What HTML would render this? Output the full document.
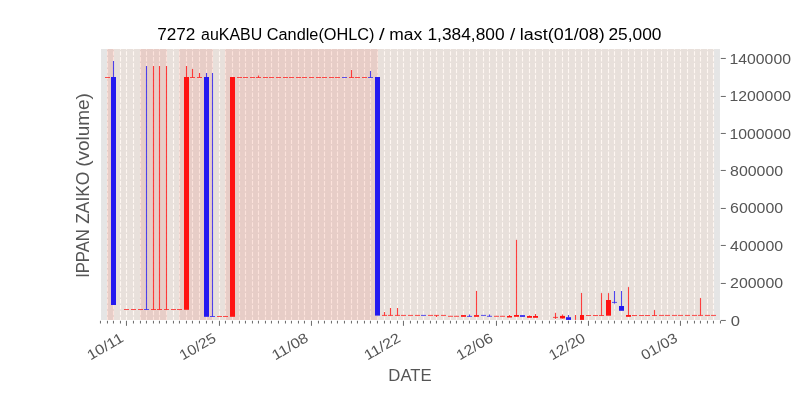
<!DOCTYPE html>
<html><head><meta charset="utf-8"><style>
html,body{margin:0;padding:0;background:#ffffff;width:800px;height:400px;overflow:hidden}
svg{display:block;will-change:transform}
text{font-family:"Liberation Sans", sans-serif}
</style></head><body>
<svg width="800" height="400" viewBox="0 0 800 400">
<rect x="0" y="0" width="800" height="400" fill="#ffffff"/>
<defs><clipPath id="ax"><rect x="101" y="49" width="619" height="271"/></clipPath></defs>
<rect x="101" y="49" width="619" height="271" fill="#e5e5e5"/>
<g clip-path="url(#ax)">
<g stroke="#ffffff" stroke-width="1.1" stroke-dasharray="4.4 1.5" stroke-dashoffset="1.1"><line x1="100.5" y1="320" x2="100.5" y2="48" /><line x1="107.5" y1="320" x2="107.5" y2="48" /><line x1="113.5" y1="320" x2="113.5" y2="48" /><line x1="120.5" y1="320" x2="120.5" y2="48" /><line x1="126.5" y1="320" x2="126.5" y2="48" /><line x1="133.5" y1="320" x2="133.5" y2="48" /><line x1="140.5" y1="320" x2="140.5" y2="48" /><line x1="146.5" y1="320" x2="146.5" y2="48" /><line x1="153.5" y1="320" x2="153.5" y2="48" /><line x1="159.5" y1="320" x2="159.5" y2="48" /><line x1="166.5" y1="320" x2="166.5" y2="48" /><line x1="173.5" y1="320" x2="173.5" y2="48" /><line x1="179.5" y1="320" x2="179.5" y2="48" /><line x1="186.5" y1="320" x2="186.5" y2="48" /><line x1="192.5" y1="320" x2="192.5" y2="48" /><line x1="199.5" y1="320" x2="199.5" y2="48" /><line x1="206.5" y1="320" x2="206.5" y2="48" /><line x1="212.5" y1="320" x2="212.5" y2="48" /><line x1="219.5" y1="320" x2="219.5" y2="48" /><line x1="225.5" y1="320" x2="225.5" y2="48" /><line x1="232.5" y1="320" x2="232.5" y2="48" /><line x1="239.5" y1="320" x2="239.5" y2="48" /><line x1="245.5" y1="320" x2="245.5" y2="48" /><line x1="252.5" y1="320" x2="252.5" y2="48" /><line x1="258.5" y1="320" x2="258.5" y2="48" /><line x1="265.5" y1="320" x2="265.5" y2="48" /><line x1="271.5" y1="320" x2="271.5" y2="48" /><line x1="278.5" y1="320" x2="278.5" y2="48" /><line x1="285.5" y1="320" x2="285.5" y2="48" /><line x1="291.5" y1="320" x2="291.5" y2="48" /><line x1="298.5" y1="320" x2="298.5" y2="48" /><line x1="304.5" y1="320" x2="304.5" y2="48" /><line x1="311.5" y1="320" x2="311.5" y2="48" /><line x1="318.5" y1="320" x2="318.5" y2="48" /><line x1="324.5" y1="320" x2="324.5" y2="48" /><line x1="331.5" y1="320" x2="331.5" y2="48" /><line x1="337.5" y1="320" x2="337.5" y2="48" /><line x1="344.5" y1="320" x2="344.5" y2="48" /><line x1="351.5" y1="320" x2="351.5" y2="48" /><line x1="357.5" y1="320" x2="357.5" y2="48" /><line x1="364.5" y1="320" x2="364.5" y2="48" /><line x1="370.5" y1="320" x2="370.5" y2="48" /><line x1="377.5" y1="320" x2="377.5" y2="48" /><line x1="384.5" y1="320" x2="384.5" y2="48" /><line x1="390.5" y1="320" x2="390.5" y2="48" /><line x1="397.5" y1="320" x2="397.5" y2="48" /><line x1="403.5" y1="320" x2="403.5" y2="48" /><line x1="410.5" y1="320" x2="410.5" y2="48" /><line x1="417.5" y1="320" x2="417.5" y2="48" /><line x1="423.5" y1="320" x2="423.5" y2="48" /><line x1="430.5" y1="320" x2="430.5" y2="48" /><line x1="436.5" y1="320" x2="436.5" y2="48" /><line x1="443.5" y1="320" x2="443.5" y2="48" /><line x1="450.5" y1="320" x2="450.5" y2="48" /><line x1="456.5" y1="320" x2="456.5" y2="48" /><line x1="463.5" y1="320" x2="463.5" y2="48" /><line x1="469.5" y1="320" x2="469.5" y2="48" /><line x1="476.5" y1="320" x2="476.5" y2="48" /><line x1="483.5" y1="320" x2="483.5" y2="48" /><line x1="489.5" y1="320" x2="489.5" y2="48" /><line x1="496.5" y1="320" x2="496.5" y2="48" /><line x1="502.5" y1="320" x2="502.5" y2="48" /><line x1="509.5" y1="320" x2="509.5" y2="48" /><line x1="516.5" y1="320" x2="516.5" y2="48" /><line x1="522.5" y1="320" x2="522.5" y2="48" /><line x1="529.5" y1="320" x2="529.5" y2="48" /><line x1="535.5" y1="320" x2="535.5" y2="48" /><line x1="542.5" y1="320" x2="542.5" y2="48" /><line x1="549.5" y1="320" x2="549.5" y2="48" /><line x1="555.5" y1="320" x2="555.5" y2="48" /><line x1="562.5" y1="320" x2="562.5" y2="48" /><line x1="568.5" y1="320" x2="568.5" y2="48" /><line x1="575.5" y1="320" x2="575.5" y2="48" /><line x1="581.5" y1="320" x2="581.5" y2="48" /><line x1="588.5" y1="320" x2="588.5" y2="48" /><line x1="595.5" y1="320" x2="595.5" y2="48" /><line x1="601.5" y1="320" x2="601.5" y2="48" /><line x1="608.5" y1="320" x2="608.5" y2="48" /><line x1="614.5" y1="320" x2="614.5" y2="48" /><line x1="621.5" y1="320" x2="621.5" y2="48" /><line x1="628.5" y1="320" x2="628.5" y2="48" /><line x1="634.5" y1="320" x2="634.5" y2="48" /><line x1="641.5" y1="320" x2="641.5" y2="48" /><line x1="647.5" y1="320" x2="647.5" y2="48" /><line x1="654.5" y1="320" x2="654.5" y2="48" /><line x1="661.5" y1="320" x2="661.5" y2="48" /><line x1="667.5" y1="320" x2="667.5" y2="48" /><line x1="674.5" y1="320" x2="674.5" y2="48" /><line x1="680.5" y1="320" x2="680.5" y2="48" /><line x1="687.5" y1="320" x2="687.5" y2="48" /><line x1="694.5" y1="320" x2="694.5" y2="48" /><line x1="700.5" y1="320" x2="700.5" y2="48" /><line x1="707.5" y1="320" x2="707.5" y2="48" /><line x1="713.5" y1="320" x2="713.5" y2="48" /><line x1="720.5" y1="320" x2="720.5" y2="48" /></g>
<rect x="107" y="48" width="607" height="272" fill="rgba(252,190,152,0.13)"/>
<rect x="107" y="48" width="7" height="272" fill="rgba(232,74,61,0.12)"/>
<rect x="140" y="48" width="27" height="272" fill="rgba(232,74,61,0.12)"/>
<rect x="179" y="48" width="34" height="272" fill="rgba(232,74,61,0.12)"/>
<rect x="225" y="48" width="153" height="272" fill="rgba(232,74,61,0.12)"/>
<rect x="105.00" y="77.00" width="5" height="1.0" fill="#ff1212" opacity="0.72"/>
<rect x="112.95" y="61.00" width="1.1" height="16.00" fill="#2419f0" opacity="0.8"/>
<rect x="111.00" y="77.00" width="5" height="228.00" fill="#2419f0"/>
<rect x="124.00" y="309.00" width="5" height="1.0" fill="#ff1212" opacity="0.72"/>
<rect x="131.00" y="309.00" width="5" height="1.0" fill="#ff1212" opacity="0.72"/>
<rect x="138.00" y="309.00" width="5" height="1.0" fill="#ff1212" opacity="0.72"/>
<rect x="145.95" y="66.00" width="1.1" height="243.50" fill="#2419f0" opacity="0.8"/>
<rect x="144.00" y="309.00" width="5" height="1.0" fill="#2419f0" opacity="0.72"/>
<rect x="152.95" y="66.00" width="1.1" height="243.50" fill="#ff1212" opacity="0.8"/>
<rect x="151.00" y="309.00" width="5" height="1.0" fill="#ff1212" opacity="0.72"/>
<rect x="158.95" y="66.00" width="1.1" height="243.50" fill="#ff1212" opacity="0.8"/>
<rect x="157.00" y="309.00" width="5" height="1.0" fill="#ff1212" opacity="0.72"/>
<rect x="165.95" y="66.00" width="1.1" height="243.50" fill="#ff1212" opacity="0.8"/>
<rect x="164.00" y="309.00" width="5" height="1.0" fill="#ff1212" opacity="0.72"/>
<rect x="171.00" y="309.00" width="5" height="1.0" fill="#ff1212" opacity="0.72"/>
<rect x="177.00" y="309.00" width="5" height="1.0" fill="#ff1212" opacity="0.72"/>
<rect x="185.95" y="66.00" width="1.1" height="11.00" fill="#ff1212" opacity="0.8"/>
<rect x="184.00" y="77.00" width="5" height="232.80" fill="#ff1212"/>
<rect x="191.95" y="69.00" width="1.1" height="8.50" fill="#ff1212" opacity="0.8"/>
<rect x="190.00" y="77.00" width="5" height="1.0" fill="#ff1212" opacity="0.72"/>
<rect x="198.95" y="73.00" width="1.1" height="4.50" fill="#ff1212" opacity="0.8"/>
<rect x="197.00" y="77.00" width="5" height="1.0" fill="#ff1212" opacity="0.72"/>
<rect x="205.95" y="73.00" width="1.1" height="4.00" fill="#2419f0" opacity="0.8"/>
<rect x="204.00" y="77.00" width="5" height="239.80" fill="#2419f0"/>
<rect x="211.95" y="73.00" width="1.1" height="243.50" fill="#2419f0" opacity="0.8"/>
<rect x="210.00" y="316.00" width="5" height="1.0" fill="#2419f0" opacity="0.72"/>
<rect x="217.00" y="316.00" width="5" height="1.0" fill="#ff1212" opacity="0.72"/>
<rect x="223.00" y="316.00" width="5" height="1.0" fill="#ff1212" opacity="0.72"/>
<rect x="230.00" y="77.00" width="5" height="239.80" fill="#ff1212"/>
<rect x="237.00" y="77.00" width="5" height="1.0" fill="#ff1212" opacity="0.72"/>
<rect x="243.00" y="77.00" width="5" height="1.0" fill="#ff1212" opacity="0.72"/>
<rect x="250.00" y="77.00" width="5" height="1.0" fill="#ff1212" opacity="0.72"/>
<rect x="257.95" y="75.50" width="1.1" height="2.00" fill="#ff1212" opacity="0.8"/>
<rect x="256.00" y="77.00" width="5" height="1.0" fill="#ff1212" opacity="0.72"/>
<rect x="263.00" y="77.00" width="5" height="1.0" fill="#ff1212" opacity="0.72"/>
<rect x="269.00" y="77.00" width="5" height="1.0" fill="#ff1212" opacity="0.72"/>
<rect x="276.00" y="77.00" width="5" height="1.0" fill="#ff1212" opacity="0.72"/>
<rect x="283.00" y="77.00" width="5" height="1.0" fill="#ff1212" opacity="0.72"/>
<rect x="289.00" y="77.00" width="5" height="1.0" fill="#ff1212" opacity="0.72"/>
<rect x="296.00" y="77.00" width="5" height="1.0" fill="#ff1212" opacity="0.72"/>
<rect x="302.00" y="77.00" width="5" height="1.0" fill="#ff1212" opacity="0.72"/>
<rect x="309.00" y="77.00" width="5" height="1.0" fill="#ff1212" opacity="0.72"/>
<rect x="316.00" y="77.00" width="5" height="1.0" fill="#ff1212" opacity="0.72"/>
<rect x="322.00" y="77.00" width="5" height="1.0" fill="#ff1212" opacity="0.72"/>
<rect x="329.00" y="77.00" width="5" height="1.0" fill="#ff1212" opacity="0.72"/>
<rect x="335.00" y="77.00" width="5" height="1.0" fill="#ff1212" opacity="0.72"/>
<rect x="342.00" y="77.00" width="5" height="1.0" fill="#2419f0" opacity="0.72"/>
<rect x="350.95" y="70.00" width="1.1" height="7.50" fill="#ff1212" opacity="0.8"/>
<rect x="349.00" y="77.00" width="5" height="1.0" fill="#ff1212" opacity="0.72"/>
<rect x="355.00" y="77.00" width="5" height="1.0" fill="#ff1212" opacity="0.72"/>
<rect x="362.00" y="77.00" width="5" height="1.0" fill="#ff1212" opacity="0.72"/>
<rect x="369.95" y="71.00" width="1.1" height="6.50" fill="#2419f0" opacity="0.8"/>
<rect x="368.00" y="77.00" width="5" height="1.0" fill="#2419f0" opacity="0.72"/>
<rect x="375.00" y="77.00" width="5" height="238.60" fill="#2419f0"/>
<rect x="383.95" y="312.00" width="1.1" height="3.40" fill="#ff1212" opacity="0.8"/>
<rect x="382.00" y="314.90" width="5" height="1.0" fill="#ff1212" opacity="0.72"/>
<rect x="389.95" y="308.00" width="1.1" height="7.40" fill="#ff1212" opacity="0.8"/>
<rect x="388.00" y="314.90" width="5" height="1.0" fill="#ff1212" opacity="0.72"/>
<rect x="396.95" y="308.00" width="1.1" height="7.40" fill="#ff1212" opacity="0.8"/>
<rect x="395.00" y="314.90" width="5" height="1.0" fill="#ff1212" opacity="0.72"/>
<rect x="401.00" y="314.90" width="5" height="1.0" fill="#ff1212" opacity="0.72"/>
<rect x="408.00" y="314.90" width="5" height="1.0" fill="#ff1212" opacity="0.72"/>
<rect x="415.00" y="314.90" width="5" height="1.0" fill="#ff1212" opacity="0.72"/>
<rect x="421.00" y="314.90" width="5" height="1.0" fill="#2419f0" opacity="0.72"/>
<rect x="428.00" y="314.90" width="5" height="1.0" fill="#ff1212" opacity="0.72"/>
<rect x="435.95" y="315.40" width="1.1" height="1.60" fill="#ff1212" opacity="0.8"/>
<rect x="434.00" y="314.90" width="5" height="1.0" fill="#ff1212" opacity="0.72"/>
<rect x="441.00" y="314.90" width="5" height="1.0" fill="#ff1212" opacity="0.72"/>
<rect x="448.00" y="315.80" width="5" height="1.0" fill="#ff1212" opacity="0.72"/>
<rect x="454.00" y="315.80" width="5" height="1.0" fill="#ff1212" opacity="0.72"/>
<rect x="461.00" y="315.10" width="5" height="1.70" fill="#ff1212"/>
<rect x="468.95" y="314.50" width="1.1" height="1.90" fill="#2419f0" opacity="0.8"/>
<rect x="467.00" y="315.90" width="5" height="1.0" fill="#2419f0" opacity="0.72"/>
<rect x="475.95" y="290.90" width="1.1" height="24.20" fill="#ff1212" opacity="0.8"/>
<rect x="474.00" y="315.10" width="5" height="1.70" fill="#ff1212"/>
<rect x="481.00" y="314.90" width="5" height="1.0" fill="#2419f0" opacity="0.72"/>
<rect x="488.95" y="314.50" width="1.1" height="1.80" fill="#2419f0" opacity="0.8"/>
<rect x="487.00" y="315.80" width="5" height="1.0" fill="#2419f0" opacity="0.72"/>
<rect x="494.00" y="315.80" width="5" height="1.0" fill="#ff1212" opacity="0.72"/>
<rect x="500.00" y="315.80" width="5" height="1.0" fill="#ff1212" opacity="0.72"/>
<rect x="508.95" y="315.00" width="1.1" height="1.00" fill="#ff1212" opacity="0.8"/>
<rect x="507.00" y="316.00" width="5" height="1.50" fill="#ff1212"/>
<rect x="515.95" y="239.90" width="1.1" height="75.10" fill="#ff1212" opacity="0.8"/>
<rect x="514.00" y="315.00" width="5" height="1.80" fill="#ff1212"/>
<rect x="520.00" y="315.20" width="5" height="1.60" fill="#2419f0"/>
<rect x="528.95" y="315.50" width="1.1" height="0.50" fill="#ff1212" opacity="0.8"/>
<rect x="527.00" y="316.00" width="5" height="1.80" fill="#ff1212"/>
<rect x="534.95" y="314.00" width="1.1" height="2.00" fill="#ff1212" opacity="0.8"/>
<rect x="533.00" y="316.00" width="5" height="1.80" fill="#ff1212"/>
<rect x="554.95" y="312.80" width="1.1" height="4.60" fill="#ff1212" opacity="0.8"/>
<rect x="554.95" y="317.40" width="1.1" height="1.50" fill="#ff1212" opacity="0.8"/>
<rect x="553.00" y="316.90" width="5" height="1.0" fill="#ff1212" opacity="0.72"/>
<rect x="561.95" y="314.50" width="1.1" height="1.40" fill="#ff1212" opacity="0.8"/>
<rect x="561.95" y="318.40" width="1.1" height="0.60" fill="#ff1212" opacity="0.8"/>
<rect x="560.00" y="315.90" width="5" height="2.50" fill="#ff1212"/>
<rect x="567.95" y="315.00" width="1.1" height="2.20" fill="#2419f0" opacity="0.8"/>
<rect x="566.00" y="317.20" width="5" height="2.70" fill="#2419f0"/>
<rect x="574.95" y="315.00" width="1.1" height="4.90" fill="#ff1212" opacity="0.8"/>
<rect x="580.95" y="293.00" width="1.1" height="22.00" fill="#ff1212" opacity="0.8"/>
<rect x="580.00" y="315.00" width="4" height="4.90" fill="#ff1212"/>
<rect x="586.00" y="315.00" width="5" height="1.0" fill="#ff1212" opacity="0.72"/>
<rect x="593.00" y="315.00" width="5" height="1.0" fill="#ff1212" opacity="0.72"/>
<rect x="600.95" y="293.10" width="1.1" height="22.40" fill="#ff1212" opacity="0.8"/>
<rect x="599.00" y="315.00" width="5" height="1.0" fill="#ff1212" opacity="0.72"/>
<rect x="607.95" y="293.10" width="1.1" height="6.90" fill="#ff1212" opacity="0.8"/>
<rect x="606.00" y="300.00" width="5" height="15.70" fill="#ff1212"/>
<rect x="613.95" y="291.00" width="1.1" height="11.40" fill="#2419f0" opacity="0.8"/>
<rect x="613.95" y="302.40" width="1.1" height="1.20" fill="#2419f0" opacity="0.8"/>
<rect x="612.00" y="301.90" width="5" height="1.0" fill="#2419f0" opacity="0.72"/>
<rect x="620.95" y="291.00" width="1.1" height="15.00" fill="#2419f0" opacity="0.8"/>
<rect x="619.00" y="306.00" width="5" height="4.80" fill="#2419f0"/>
<rect x="627.95" y="287.10" width="1.1" height="27.90" fill="#ff1212" opacity="0.8"/>
<rect x="626.00" y="315.00" width="5" height="1.80" fill="#ff1212"/>
<rect x="632.00" y="315.00" width="5" height="1.0" fill="#ff1212" opacity="0.72"/>
<rect x="639.00" y="315.00" width="5" height="1.0" fill="#ff1212" opacity="0.72"/>
<rect x="645.00" y="315.00" width="5" height="1.0" fill="#ff1212" opacity="0.72"/>
<rect x="653.95" y="310.10" width="1.1" height="5.40" fill="#ff1212" opacity="0.8"/>
<rect x="652.00" y="315.00" width="5" height="1.0" fill="#ff1212" opacity="0.72"/>
<rect x="659.00" y="314.90" width="5" height="1.0" fill="#ff1212" opacity="0.72"/>
<rect x="665.00" y="314.90" width="5" height="1.0" fill="#ff1212" opacity="0.72"/>
<rect x="672.00" y="314.90" width="5" height="1.0" fill="#ff1212" opacity="0.72"/>
<rect x="678.00" y="314.90" width="5" height="1.0" fill="#ff1212" opacity="0.72"/>
<rect x="685.00" y="314.90" width="5" height="1.0" fill="#ff1212" opacity="0.72"/>
<rect x="692.00" y="314.90" width="5" height="1.0" fill="#ff1212" opacity="0.72"/>
<rect x="699.95" y="298.10" width="1.1" height="17.30" fill="#ff1212" opacity="0.8"/>
<rect x="698.00" y="314.90" width="5" height="1.0" fill="#ff1212" opacity="0.72"/>
<rect x="705.00" y="314.90" width="5" height="1.0" fill="#ff1212" opacity="0.72"/>
<rect x="711.00" y="314.90" width="5" height="1.0" fill="#ff1212" opacity="0.72"/>
</g>
<g fill="#555555" opacity="0.88"><rect x="99.95" y="320.8" width="1.0" height="2.7"/><rect x="106.95" y="320.8" width="1.0" height="2.7"/><rect x="112.95" y="320.8" width="1.0" height="2.7"/><rect x="119.95" y="320.8" width="1.0" height="2.7"/><rect x="125.95" y="320.8" width="1.0" height="5.0"/><rect x="132.95" y="320.8" width="1.0" height="2.7"/><rect x="139.95" y="320.8" width="1.0" height="2.7"/><rect x="145.95" y="320.8" width="1.0" height="2.7"/><rect x="152.95" y="320.8" width="1.0" height="2.7"/><rect x="158.95" y="320.8" width="1.0" height="2.7"/><rect x="165.95" y="320.8" width="1.0" height="2.7"/><rect x="172.95" y="320.8" width="1.0" height="2.7"/><rect x="178.95" y="320.8" width="1.0" height="2.7"/><rect x="185.95" y="320.8" width="1.0" height="2.7"/><rect x="191.95" y="320.8" width="1.0" height="2.7"/><rect x="198.95" y="320.8" width="1.0" height="2.7"/><rect x="205.95" y="320.8" width="1.0" height="2.7"/><rect x="211.95" y="320.8" width="1.0" height="2.7"/><rect x="218.95" y="320.8" width="1.0" height="5.0"/><rect x="224.95" y="320.8" width="1.0" height="2.7"/><rect x="231.95" y="320.8" width="1.0" height="2.7"/><rect x="238.95" y="320.8" width="1.0" height="2.7"/><rect x="244.95" y="320.8" width="1.0" height="2.7"/><rect x="251.95" y="320.8" width="1.0" height="2.7"/><rect x="257.95" y="320.8" width="1.0" height="2.7"/><rect x="264.95" y="320.8" width="1.0" height="2.7"/><rect x="270.95" y="320.8" width="1.0" height="2.7"/><rect x="277.95" y="320.8" width="1.0" height="2.7"/><rect x="284.95" y="320.8" width="1.0" height="2.7"/><rect x="290.95" y="320.8" width="1.0" height="2.7"/><rect x="297.95" y="320.8" width="1.0" height="2.7"/><rect x="303.95" y="320.8" width="1.0" height="2.7"/><rect x="310.95" y="320.8" width="1.0" height="5.0"/><rect x="317.95" y="320.8" width="1.0" height="2.7"/><rect x="323.95" y="320.8" width="1.0" height="2.7"/><rect x="330.95" y="320.8" width="1.0" height="2.7"/><rect x="336.95" y="320.8" width="1.0" height="2.7"/><rect x="343.95" y="320.8" width="1.0" height="2.7"/><rect x="350.95" y="320.8" width="1.0" height="2.7"/><rect x="356.95" y="320.8" width="1.0" height="2.7"/><rect x="363.95" y="320.8" width="1.0" height="2.7"/><rect x="369.95" y="320.8" width="1.0" height="2.7"/><rect x="376.95" y="320.8" width="1.0" height="2.7"/><rect x="383.95" y="320.8" width="1.0" height="2.7"/><rect x="389.95" y="320.8" width="1.0" height="2.7"/><rect x="396.95" y="320.8" width="1.0" height="2.7"/><rect x="402.95" y="320.8" width="1.0" height="5.0"/><rect x="409.95" y="320.8" width="1.0" height="2.7"/><rect x="416.95" y="320.8" width="1.0" height="2.7"/><rect x="422.95" y="320.8" width="1.0" height="2.7"/><rect x="429.95" y="320.8" width="1.0" height="2.7"/><rect x="435.95" y="320.8" width="1.0" height="2.7"/><rect x="442.95" y="320.8" width="1.0" height="2.7"/><rect x="449.95" y="320.8" width="1.0" height="2.7"/><rect x="455.95" y="320.8" width="1.0" height="2.7"/><rect x="462.95" y="320.8" width="1.0" height="2.7"/><rect x="468.95" y="320.8" width="1.0" height="2.7"/><rect x="475.95" y="320.8" width="1.0" height="2.7"/><rect x="482.95" y="320.8" width="1.0" height="2.7"/><rect x="488.95" y="320.8" width="1.0" height="2.7"/><rect x="495.95" y="320.8" width="1.0" height="5.0"/><rect x="501.95" y="320.8" width="1.0" height="2.7"/><rect x="508.95" y="320.8" width="1.0" height="2.7"/><rect x="515.95" y="320.8" width="1.0" height="2.7"/><rect x="521.95" y="320.8" width="1.0" height="2.7"/><rect x="528.95" y="320.8" width="1.0" height="2.7"/><rect x="534.95" y="320.8" width="1.0" height="2.7"/><rect x="541.95" y="320.8" width="1.0" height="2.7"/><rect x="548.95" y="320.8" width="1.0" height="2.7"/><rect x="554.95" y="320.8" width="1.0" height="2.7"/><rect x="561.95" y="320.8" width="1.0" height="2.7"/><rect x="567.95" y="320.8" width="1.0" height="2.7"/><rect x="574.95" y="320.8" width="1.0" height="2.7"/><rect x="580.95" y="320.8" width="1.0" height="2.7"/><rect x="587.95" y="320.8" width="1.0" height="5.0"/><rect x="594.95" y="320.8" width="1.0" height="2.7"/><rect x="600.95" y="320.8" width="1.0" height="2.7"/><rect x="607.95" y="320.8" width="1.0" height="2.7"/><rect x="613.95" y="320.8" width="1.0" height="2.7"/><rect x="620.95" y="320.8" width="1.0" height="2.7"/><rect x="627.95" y="320.8" width="1.0" height="2.7"/><rect x="633.95" y="320.8" width="1.0" height="2.7"/><rect x="640.95" y="320.8" width="1.0" height="2.7"/><rect x="646.95" y="320.8" width="1.0" height="2.7"/><rect x="653.95" y="320.8" width="1.0" height="2.7"/><rect x="660.95" y="320.8" width="1.0" height="2.7"/><rect x="666.95" y="320.8" width="1.0" height="2.7"/><rect x="673.95" y="320.8" width="1.0" height="2.7"/><rect x="679.95" y="320.8" width="1.0" height="5.0"/><rect x="686.95" y="320.8" width="1.0" height="2.7"/><rect x="693.95" y="320.8" width="1.0" height="2.7"/><rect x="699.95" y="320.8" width="1.0" height="2.7"/><rect x="706.95" y="320.8" width="1.0" height="2.7"/><rect x="712.95" y="320.8" width="1.0" height="2.7"/><rect x="719.95" y="320.8" width="1.0" height="2.7"/><rect x="720.8" y="319.95" width="5.0" height="1.0"/><rect x="720.8" y="282.95" width="5.0" height="1.0"/><rect x="720.8" y="244.95" width="5.0" height="1.0"/><rect x="720.8" y="207.95" width="5.0" height="1.0"/><rect x="720.8" y="169.95" width="5.0" height="1.0"/><rect x="720.8" y="132.95" width="5.0" height="1.0"/><rect x="720.8" y="95.95" width="5.0" height="1.0"/><rect x="720.8" y="57.95" width="5.0" height="1.0"/></g>
<g fill="#000000"><text x="157.19" y="40" font-size="15.8" textLength="38.22" lengthAdjust="spacingAndGlyphs">7272</text><text x="201.07" y="40" font-size="15.8" textLength="61.13" lengthAdjust="spacingAndGlyphs">auKABU</text><text x="266.75" y="40" font-size="15.8" textLength="107.76" lengthAdjust="spacingAndGlyphs">Candle(OHLC)</text><text x="379.02" y="40" font-size="15.8" textLength="5.65" lengthAdjust="spacingAndGlyphs">/</text><text x="389.24" y="40" font-size="15.8" textLength="32.89" lengthAdjust="spacingAndGlyphs">max</text><text x="427.47" y="40" font-size="15.8" textLength="77.14" lengthAdjust="spacingAndGlyphs">1,384,800</text><text x="510.04" y="40" font-size="15.8" textLength="5.26" lengthAdjust="spacingAndGlyphs">/</text><text x="519.79" y="40" font-size="15.8" textLength="84.87" lengthAdjust="spacingAndGlyphs">last(01/08)</text><text x="608.46" y="40" font-size="15.8" textLength="53.07" lengthAdjust="spacingAndGlyphs">25,000</text></g>
<g fill="#555555" transform="translate(89,300) rotate(-90)"><text x="22.14" y="0" font-size="17.6" textLength="48.70" lengthAdjust="spacingAndGlyphs">IPPAN</text><text x="76.28" y="0" font-size="17.6" textLength="52.09" lengthAdjust="spacingAndGlyphs">ZAIKO</text><text x="133.22" y="0" font-size="17.6" textLength="73.63" lengthAdjust="spacingAndGlyphs">(volume)</text></g>
<text x="388.32" y="380.8" font-size="17.4" textLength="43.32" lengthAdjust="spacingAndGlyphs" fill="#555555">DATE</text>
<text transform="translate(124.68,340.8) rotate(-30)" x="0" y="0" text-anchor="end" font-size="14.2" textLength="39.5" lengthAdjust="spacingAndGlyphs" fill="#555555">10/11</text>
<text transform="translate(217.02,340.8) rotate(-30)" x="0" y="0" text-anchor="end" font-size="14.2" textLength="39.5" lengthAdjust="spacingAndGlyphs" fill="#555555">10/25</text>
<text transform="translate(309.36,340.8) rotate(-30)" x="0" y="0" text-anchor="end" font-size="14.2" textLength="39.5" lengthAdjust="spacingAndGlyphs" fill="#555555">11/08</text>
<text transform="translate(401.70,340.8) rotate(-30)" x="0" y="0" text-anchor="end" font-size="14.2" textLength="39.5" lengthAdjust="spacingAndGlyphs" fill="#555555">11/22</text>
<text transform="translate(494.04,340.8) rotate(-30)" x="0" y="0" text-anchor="end" font-size="14.2" textLength="39.5" lengthAdjust="spacingAndGlyphs" fill="#555555">12/06</text>
<text transform="translate(586.39,340.8) rotate(-30)" x="0" y="0" text-anchor="end" font-size="14.2" textLength="39.5" lengthAdjust="spacingAndGlyphs" fill="#555555">12/20</text>
<text transform="translate(678.73,340.8) rotate(-30)" x="0" y="0" text-anchor="end" font-size="14.2" textLength="39.5" lengthAdjust="spacingAndGlyphs" fill="#555555">01/03</text>
<text x="730.7" y="325.60" font-size="14" textLength="9.24" lengthAdjust="spacingAndGlyphs" fill="#555555">0</text>
<text x="730.1" y="288.19" font-size="14" textLength="53.04" lengthAdjust="spacingAndGlyphs" fill="#555555">200000</text>
<text x="730.1" y="250.77" font-size="14" textLength="53.04" lengthAdjust="spacingAndGlyphs" fill="#555555">400000</text>
<text x="730.1" y="213.36" font-size="14" textLength="53.04" lengthAdjust="spacingAndGlyphs" fill="#555555">600000</text>
<text x="730.1" y="175.95" font-size="14" textLength="53.04" lengthAdjust="spacingAndGlyphs" fill="#555555">800000</text>
<text x="729.5" y="138.53" font-size="14" textLength="61.46" lengthAdjust="spacingAndGlyphs" fill="#555555">1000000</text>
<text x="729.5" y="101.12" font-size="14" textLength="61.46" lengthAdjust="spacingAndGlyphs" fill="#555555">1200000</text>
<text x="729.5" y="63.71" font-size="14" textLength="61.46" lengthAdjust="spacingAndGlyphs" fill="#555555">1400000</text>
</svg>
</body></html>
